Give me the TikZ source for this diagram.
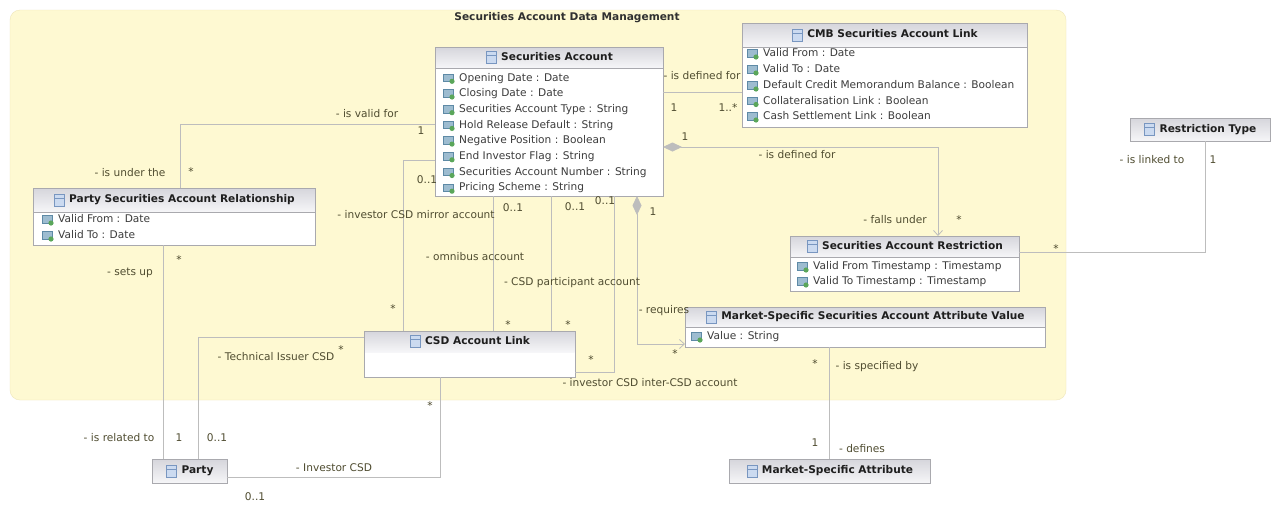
\documentclass[tikz,border=0pt]{standalone}
\usepackage{fontspec}
\setmainfont{DejaVu Sans}
\usetikzlibrary{arrows.meta,calc}
\definecolor{pkgfill}{HTML}{FEF9D2}
\definecolor{pkgdraw}{HTML}{EFE6B8}
\definecolor{linec}{HTML}{BDBDBD}
\definecolor{boxdraw}{HTML}{A9A9AE}
\definecolor{hdtop}{HTML}{D6D6DC}
\definecolor{hdbot}{HTML}{F6F6F8}
\definecolor{labc}{HTML}{4F4C30}
\definecolor{attc}{HTML}{3C3C3C}
\definecolor{hdc}{HTML}{1E1E1E}
\definecolor{pkgtc}{HTML}{303030}
\definecolor{iconb}{HTML}{7896C0}
\definecolor{iconf}{HTML}{CBDAF0}
\definecolor{attb}{HTML}{5E8AA6}
\definecolor{attf}{HTML}{9DBCD0}
\definecolor{attg}{HTML}{5AA65A}
\newcommand{\dfont}{\fontsize{10.6}{12}\selectfont}
\tikzset{
  clsicon/.pic={
    \draw[draw=iconb, fill=iconf, line width=0.5pt] (-5,-6) rectangle (5,6);
    \draw[draw=iconb, line width=0.5pt] (-5,-2) -- (5,-2);
  },
  attricon/.pic={
    \draw[draw=attb, fill=attf, line width=0.4pt] (-6,-4.5) rectangle (4,3);
    \fill[attg] (3,3) circle (2.6);
  }
}
% name x y w h hh title linecolor
\newcommand{\umlbox}[8]{%
  \node[classbody, minimum width=#4pt, minimum height=#5pt] (#1) at (#2,#3) {};
  \shade[top color=hdtop, bottom color=hdbot] ($(#1.north west)+(0.4,0.4)$) rectangle ($(#1.north east)+(-0.4,#6)$);
  \draw[draw=#8, line width=0.7pt] ($(#1.north west)+(0,#6)$) -- ($(#1.north east)+(0,#6)$);
  \draw[boxline] (#1.north west) rectangle (#1.south east);
  \node[hd] (#1-t) at ($(#1.north)+(8,#6/2)$) {#7};
  \pic at ($(#1-t.west)+(-10,0)$) {clsicon};
}
\newcommand{\attrow}[4]{%
  \node[att] (#1) at (#2,#3) {#4};
  \pic at ($(#1.west)+(-10,0)$) {attricon};
}
\begin{document}
\begin{tikzpicture}[x=1pt,y=-1pt,
  conn/.style={draw=linec, line width=0.8pt},
  boxline/.style={draw=boxdraw, line width=0.7pt},
  classbody/.style={fill=white, inner sep=0pt, outer sep=0pt, anchor=north west},
  hd/.style={font=\dfont\bfseries, text=hdc, inner sep=0pt, text height=8pt, text depth=2.5pt},
  att/.style={font=\dfont, text=attc, inner sep=0pt, text height=8pt, text depth=2.5pt, anchor=west},
  lab/.style={font=\dfont, text=labc, inner sep=0pt, text height=8pt, text depth=2.5pt},
  star/.style={lab, yshift=-3pt},
  pkgtitle/.style={font=\dfont\bfseries, text=pkgtc, inner sep=0pt, text height=8pt, text depth=2.5pt}
]
\useasboundingbox (0,0) rectangle (1271,523);
\fill[white] (0,0) rectangle (1271,523);

% package
\node[draw=pkgdraw, fill=pkgfill, rounded corners=10pt, minimum width=1056pt, minimum height=390pt, anchor=north west, inner sep=0pt, outer sep=0pt] (pkg) at (10,10) {};
\node[pkgtitle] (pkgt) at (567,18) {Securities Account Data Management};

% classes
\umlbox{sa}{435}{47}{228}{149}{21}{Securities Account}{boxdraw}
\attrow{sa1}{459}{78.3}{Opening Date : Date}
\attrow{sa2}{459}{94}{Closing Date : Date}
\attrow{sa3}{459}{109.7}{Securities Account Type : String}
\attrow{sa4}{459}{125.4}{Hold Release Default : String}
\attrow{sa5}{459}{141.1}{Negative Position : Boolean}
\attrow{sa6}{459}{156.8}{End Investor Flag : String}
\attrow{sa7}{459}{172.5}{Securities Account Number : String}
\attrow{sa8}{459}{188.2}{Pricing Scheme : String}

\umlbox{cmb}{742}{23}{285}{104}{24}{CMB Securities Account Link}{boxdraw}
\attrow{cmb1}{763}{54}{Valid From : Date}
\attrow{cmb2}{763}{70}{Valid To : Date}
\attrow{cmb3}{763}{86}{Default Credit Memorandum Balance : Boolean}
\attrow{cmb4}{763}{101.5}{Collateralisation Link : Boolean}
\attrow{cmb5}{763}{117}{Cash Settlement Link : Boolean}

\umlbox{rt}{1130}{118}{140}{23}{23}{Restriction Type}{boxdraw}

\umlbox{sar}{790}{236}{229}{55}{21}{Securities Account Restriction}{boxdraw}
\attrow{sar1}{813}{267}{Valid From Timestamp : Timestamp}
\attrow{sar2}{813}{282}{Valid To Timestamp : Timestamp}

\umlbox{ms}{685}{307}{360}{40}{20}{Market-Specific Securities Account Attribute Value}{boxdraw}
\attrow{ms1}{707}{337}{Value : String}

\umlbox{msa}{729}{459}{201}{24}{24}{Market-Specific Attribute}{boxdraw}

\umlbox{psar}{33}{188}{282}{57}{24}{Party Securities Account Relationship}{boxdraw}
\attrow{psar1}{58}{220}{Valid From : Date}
\attrow{psar2}{58}{236}{Valid To : Date}

\umlbox{party}{152}{459}{75}{24}{24}{Party}{boxdraw}

\umlbox{csd}{364}{331}{211}{46}{21}{CSD Account Link}{none}

% connectors
\draw[conn] (sa.west |- 0,124) -| (psar.north -| 180,0);
\draw[conn] (psar.south -| 163,0) -- (party.north -| 163,0);
\draw[conn] (party.north -| 198,0) |- (csd.west |- 0,337);
\draw[conn] (party.east |- 0,477) -| (csd.south -| 440,0);
\draw[conn] (csd.north -| 403,0) |- (sa.west |- 0,160);
\draw[conn] (sa.south -| 493,0) -- (csd.north -| 493,0);
\draw[conn] (sa.south -| 551,0) -- (csd.north -| 551,0);
\draw[conn] (sa.south -| 614,0) |- (csd.east |- 0,372);
\draw[conn, {Diamond[length=19pt,width=9pt,fill=linec]}-{Straight Barb[length=5pt,width=9pt]}] (sa.south -| 637,0) |- (ms.west |- 0,344);
\draw[conn] (sa.east |- 0,92) -- (cmb.west |- 0,92);
\draw[conn, {Diamond[length=19pt,width=9pt,fill=linec]}-{Straight Barb[length=5pt,width=9pt]}] (sa.east |- 0,147) -| (sar.north -| 938,0);
\draw[conn] (rt.south -| 1205,0) |- (sar.east |- 0,252);
\draw[conn] (ms.south -| 829,0) -- (msa.north -| 829,0);

% labels
\node[lab] (l1) at (367,115) {- is valid for};
\node[lab] (l2) at (421,132) {1};
\node[lab] (l3) at (130,174) {- is under the};
\node[star] (l4) at (191,170) {*};
\node[star] (l5) at (179,258) {*};
\node[lab] (l6) at (130,273) {- sets up};
\node[lab] (l7) at (119,439) {- is related to};
\node[lab] (l8) at (179,439) {1};
\node[lab] (l9) at (217,439) {0..1};
\node[lab] (l10) at (276,358) {- Technical Issuer CSD};
\node[star] (l11) at (341,348) {*};
\node[lab] (l12) at (334,469) {- Investor CSD};
\node[star] (l13) at (430,404) {*};
\node[lab] (l14) at (255,498) {0..1};
\node[lab] (l15) at (427,181) {0..1};
\node[lab] (l16) at (416,216) {- investor CSD mirror account};
\node[star] (l17) at (393,307) {*};
\node[lab] (l18) at (513,209) {0..1};
\node[lab] (l19) at (475,258) {- omnibus account};
\node[star] (l20) at (508,323) {*};
\node[lab] (l21) at (575,208) {0..1};
\node[lab] (l22) at (572,283) {- CSD participant account};
\node[star] (l23) at (568,323) {*};
\node[lab] (l24) at (605,202) {0..1};
\node[star] (l25) at (591,358) {*};
\node[lab] (l26) at (650,384) {- investor CSD inter-CSD account};
\node[lab] (l27) at (664,311) {- requires};
\node[star] (l28) at (675,352) {*};
\node[lab] (l29) at (653,213) {1};
\node[lab] (l30) at (702,77) {- is defined for};
\node[lab] (l31) at (674,109) {1};
\node[lab] (l32) at (728,109) {1..*};
\node[lab] (l33) at (685,138) {1};
\node[lab] (l34) at (797,156) {- is defined for};
\node[lab] (l35) at (895,221) {- falls under};
\node[star] (l36) at (959,218) {*};
\node[lab] (l37) at (1152,161) {- is linked to};
\node[lab] (l38) at (1213,161) {1};
\node[star] (l39) at (1056,247) {*};
\node[star] (l40) at (815,362) {*};
\node[lab] (l41) at (877,367) {- is specified by};
\node[lab] (l42) at (815,444) {1};
\node[lab] (l43) at (862,450) {- defines};
\end{tikzpicture}
\end{document}
